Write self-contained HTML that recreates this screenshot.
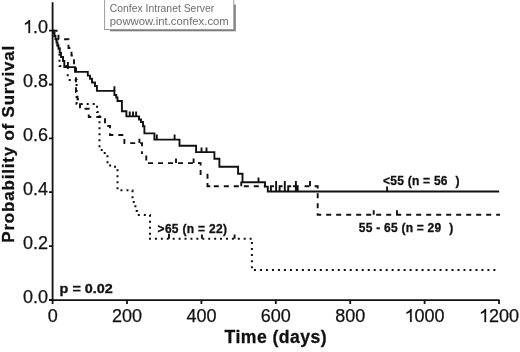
<!DOCTYPE html>
<html><head><meta charset="utf-8"><style>
html,body{margin:0;padding:0;background:#fff;width:520px;height:352px;overflow:hidden}
svg{display:block;filter:grayscale(1)}
text{font-family:"Liberation Sans",sans-serif;fill:#111}
.tk text{stroke:#111;stroke-width:0.25}
.h{fill-opacity:0;stroke-opacity:0}
.bd{stroke:#111;stroke-width:0.3}
</style></head><body>
<svg width="520" height="352" viewBox="0 0 520 352">
<!-- watermark box -->
<g>
<defs><filter id="sh" x="-10%" y="-20%" width="120%" height="150%"><feGaussianBlur stdDeviation="0.7"/></filter></defs>
<rect x="110" y="4.5" width="125.8" height="26.8" fill="#7e7e7e" filter="url(#sh)"/>
<rect x="104.6" y="-2" width="129.2" height="31.5" fill="#fff" stroke="#9c9c9c" stroke-width="1"/>
<text x="109.8" y="11.5" font-size="11.2" textLength="104.5" lengthAdjust="spacingAndGlyphs" style="fill:#6e6e6e">Confex Intranet Server</text>
<text x="109.8" y="24.8" font-size="11.2" textLength="119" lengthAdjust="spacingAndGlyphs" style="fill:#6e6e6e">powwow.int.confex.com</text>
</g>
<!-- axes -->
<g stroke="#111" stroke-width="1.8" fill="none">
<path d="M52.6,2.3 V300.5 M51.7,300.2 H499.5"/>
<path d="M49,30.6 H52.6 M49,84.5 H52.6 M49,138.4 H52.6 M49,192.2 H52.6 M49,246.1 H52.6 M49,300 H52.6"/>
<path d="M52.6,300 V304 M127,300 V304 M201.4,300 V304 M275.8,300 V304 M350.2,300 V304 M424.6,300 V304 M499,300 V304"/>
</g>
<!-- y tick labels -->
<g class="tk" font-size="18" text-anchor="end">
<text x="48" y="33"><tspan class="h">1</tspan>.0</text>
<text x="48" y="86.9">0.8</text>
<text x="48" y="140.8">0.6</text>
<text x="48" y="194.6">0.4</text>
<text x="48" y="248.5">0.2</text>
<text x="48" y="302.8">0.0</text>
</g>
<!-- x tick labels -->
<g class="tk" font-size="18" text-anchor="middle">
<text x="52.8" y="322">0</text>
<text x="127" y="322">200</text>
<text x="201.4" y="322">400</text>
<text x="275.8" y="322">600</text>
<text x="350.2" y="322">800</text>
<text x="424.6" y="322"><tspan class="h">1</tspan>000</text>
<text x="499" y="322"><tspan class="h">1</tspan>200</text>
</g>
<defs><path id="one" d="M0.392,0 V-0.716 H0.33 C0.3,-0.66 0.22,-0.585 0.109,-0.535 V-0.452 C0.19,-0.485 0.26,-0.525 0.306,-0.56 V0 Z"/></defs>
<g fill="#111" stroke="#111" stroke-width="0.014">
<use href="#one" transform="translate(22.98,33) scale(18)"/>
<use href="#one" transform="translate(404.585,322) scale(18)"/>
<use href="#one" transform="translate(478.985,322) scale(18)"/>
</g>
<!-- axis titles -->
<text transform="translate(14.4,144.2) rotate(-90)" text-anchor="middle" class="bd" font-size="17" font-weight="bold" textLength="197" lengthAdjust="spacing">Probability of Survival</text>
<text x="275.6" y="342.9" text-anchor="middle" class="bd" font-size="17.6" font-weight="bold" textLength="102" lengthAdjust="spacing">Time (days)</text>
<!-- curve labels -->
<g class="bd" font-size="12" font-weight="bold">
<text x="157.6" y="233.3" textLength="69.3" lengthAdjust="spacing">&gt;65 (n = 22)</text>
<text x="383" y="185.4" textLength="64.5" lengthAdjust="spacing">&lt;55 (n = 56</text><text x="455.4" y="185.4">)</text>
<text x="358.8" y="232.2" textLength="82.4" lengthAdjust="spacing">55 - 65 (n = 29</text><text x="449.2" y="232.2">)</text>
<text x="59.6" y="293.3" font-size="12.5" textLength="53.2" lengthAdjust="spacingAndGlyphs">p = 0.02</text>
</g>
<!-- curves -->
<g fill="none" stroke="#111" stroke-width="1.9" stroke-linejoin="miter" stroke-linecap="butt">
<!-- solid <55 -->
<path d="M52.6,30.7 H53.5 V33 H54.5 V36 H55.5 V39 H56.5 V42.5 H57.5 V45.5 H58.5 V48.5 H59.7 V52.6 H61 V57 H63 V61 H64.3 V67.1 H75 V71.9 H87.8 V75.6 H90 V78.75 H92 V82.5 H95 V86 H96.9 V90.9 H114.4 V95 H116.25 V97.5 H117.5 V101 H121.9 V111.25 H126.4 V116.4 H139 V119.5 H141 V122 H143 V126.25 H144.4 V133.4 H154.4 V139.6 H179.5 V145.7 H196.1 V152.1 H214.4 V158.8 H219.4 V166.7 H238.1 V173.75 H242.5 V182.2 H265 V186.6 H267.8 V191.5 H499.2"/>
<!-- solid censors -->
<path d="M67.9,69 V62 M114.4,90.9 V86.2 M129.75,116.25 V111.5 M133,116.25 V111.5 M136.1,116.25 V111.5 M156.8,139.6 V134.4 M174.6,139.6 V134.4 M201.5,152 V147.4 M206.5,152 V147.4 M258.5,182.2 V177.4 M387.1,191.5 V186.4"/>
</g>
<g fill="none" stroke="#111" stroke-width="1.9" stroke-dasharray="5 5">
<!-- dashed 55-65 -->
<path d="M52.6,30.7 H58.5 V39.2 H68.5 V48 H71.5 V55.5 H74 V65 H76 V92 H77.5 V99.3 H80 V108.75 H88.75 V117 H105 V126 H110 V135 H124.4 V143.1 H142 V154"/>
<path d="M146.25,163.1 H200.6" stroke-dashoffset="8.25"/>
<path d="M213.8,186.2 H266"/>
<path d="M317.7,193.2 V214.7 H500"/>
</g>
<g fill="none" stroke="#111" stroke-width="1.9">
<path d="M270.9,191.2 V186.3 H273.9 M279.6,191.2 V186.3 H282.6 M288.2,191.2 V186.3 H291.2 M293,186.3 H297.7 V191.2 M276.1,191.2 V181.1 M284.8,191.2 V181.1 M295.9,191.2 V181.1 M304.6,186.2 H309.4 M314.6,186.2 H317.7 V188.6"/>
<path d="M146.25,155.5 V160.5 M198,163.1 H200.6 V165.6 M200.6,170 V175 M207.5,173.75 V178.75 M207.5,183 V186.2 H210.3"/>
</g>
<g fill="none" stroke="#111" stroke-width="1.9">
<path d="M139.4,143.1 V138.7 M176,163.1 V158.6 M193.6,163.1 V158.6 M241.25,186.2 V181.5 M310,186.2 V181 M373.7,214.7 V210.2 M397,214.7 V210.2"/>
</g>
<g fill="none" stroke="#111" stroke-width="2" stroke-dasharray="2 4">
<!-- dotted >65 -->
<path d="M52.6,30.7 H53.5 V33 H54.5 V36 H55.5 V39 H56.5 V42.5 H57.5 V45.5 H58.5 V48.5 H59.5 V66 H67.7"/>
<path d="M67.7,74.3 V76.3 M68.7,80 H76.6 V104 H97 V112 H99.5 V150 H103 V153 H107.5 V165.6 H115 V168.75 H117.5 V190.25 H132.5 V202 H135.4 V211 H137.2 V214.9 H150 V238"/>
<path d="M149,238.75 H252" stroke-dasharray="2 3.92"/>
<path d="M251.9,242 V270" stroke-dasharray="2 4.05"/>
<path d="M254,270 H496.5" stroke-dasharray="2 3.985"/>
</g>
<g fill="none" stroke="#111" stroke-width="1.9">
<path d="M169,238.75 V233.8 M201.9,238.75 V234.5 M234.6,238.75 V234.5"/>
</g>
</svg>
</body></html>
